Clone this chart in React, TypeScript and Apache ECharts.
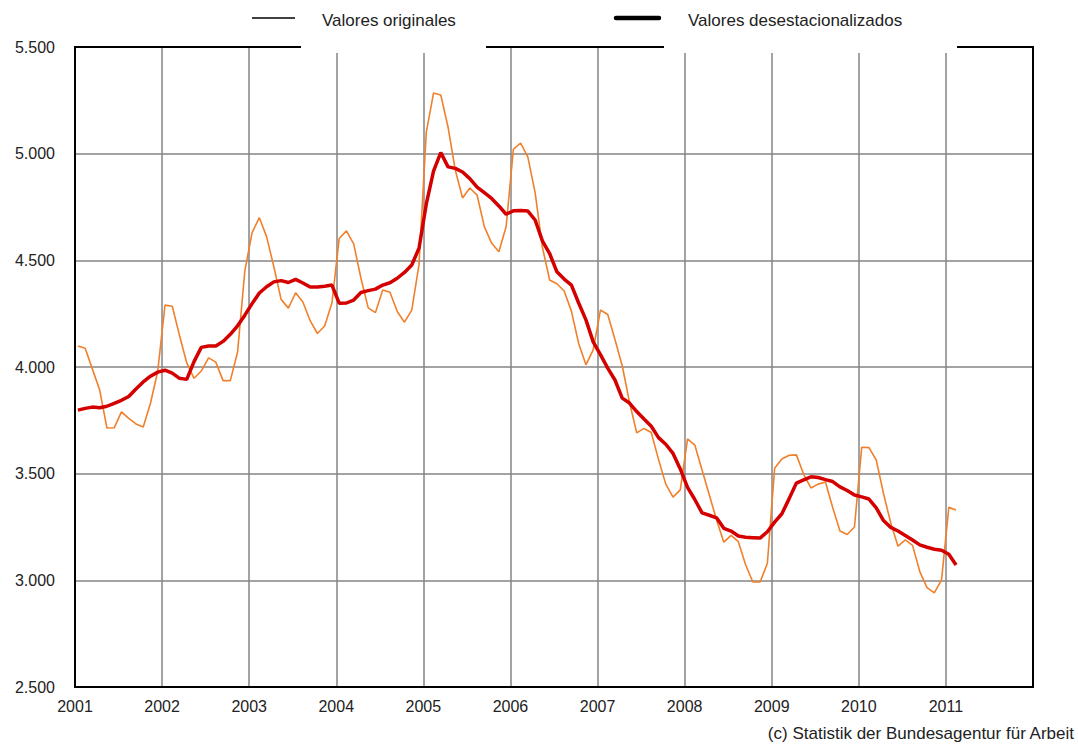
import React, { useEffect, useRef } from "react";
import * as echarts from "echarts";

// Monthly data, Jan 2001 – Feb 2011 (thousands of unemployed? values as plotted)
const startYear = 2001;
const originales: number[] = [
  // 2001
  4098, 4088, 3990, 3892, 3714, 3715, 3790, 3759, 3733, 3719, 3830, 3980,
  // 2002
  4290, 4285, 4148, 4019, 3947, 3981, 4043, 4023, 3936, 3936, 4070, 4450,
  // 2003
  4630, 4700, 4611, 4470, 4317, 4276, 4348, 4305, 4217, 4157, 4192, 4300,
  // 2004
  4602, 4638, 4577, 4416, 4277, 4255, 4361, 4350, 4260, 4210, 4267, 4480,
  // 2005
  5100, 5284, 5275, 5125, 4923, 4792, 4839, 4806, 4658, 4581, 4540, 4657,
  // 2006
  5020, 5050, 4984, 4817, 4562, 4408, 4390, 4356, 4262, 4110, 4010, 4080,
  // 2007
  4267, 4246, 4129, 4006, 3835, 3691, 3712, 3693, 3567, 3451, 3390, 3424,
  // 2008
  3663, 3634, 3517, 3400, 3283, 3179, 3211, 3181, 3073, 2992, 2992, 3080,
  // 2009
  3525, 3569, 3586, 3588, 3497, 3433, 3451, 3461, 3341, 3231, 3215, 3250,
  // 2010
  3624, 3622, 3564, 3407, 3269, 3160, 3190, 3164, 3041, 2966, 2941, 3002,
  // 2011
  3342, 3330,
];
const desestacionalizados: number[] = [
  // 2001
  3798, 3806, 3812, 3809, 3816, 3830, 3844, 3862, 3897, 3930, 3957, 3976,
  // 2002
  3985, 3971, 3947, 3942, 4025, 4092, 4098, 4098, 4120, 4153, 4193, 4243,
  // 2003
  4297, 4347, 4376, 4399, 4405, 4396, 4411, 4394, 4375, 4375, 4379, 4384,
  // 2004
  4299, 4300, 4314, 4349, 4358, 4365, 4384, 4395, 4416, 4443, 4478, 4557,
  // 2005
  4763, 4918, 5005, 4938, 4931, 4914, 4883, 4843, 4817, 4790, 4755, 4716,
  // 2006
  4732, 4734, 4731, 4689, 4591, 4532, 4446, 4412, 4384, 4300, 4221, 4118,
  // 2007
  4058, 3995, 3939, 3854, 3831, 3791, 3756, 3722, 3669, 3638, 3595, 3522,
  // 2008
  3436, 3379, 3316, 3305, 3293, 3244, 3231, 3208, 3202, 3200, 3198, 3228,
  // 2009
  3273, 3312, 3383, 3456, 3471, 3485, 3482, 3472, 3463, 3438, 3421, 3400,
  // 2010
  3391, 3381, 3340, 3280, 3248, 3231, 3210, 3189, 3166, 3155, 3146, 3141,
  // 2011
  3122, 3072,
];
const xMin = 2001;
const xMax = 2012;
const yMin = 2500;
const yMax = 5500;
const yStep = 500;
const seriesNames = ["Valores originales", "Valores desestacionalizados"];
const credit = "(c) Statistik der Bundesagentur für Arbeit";

// position of a monthly observation on the year axis (mid-month)
const monthPos = (i: number) => startYear + (i + 0.4) / 12;

const fmtThousands = (v: number) =>
  String(v).replace(/\B(?=(\d{3})+(?!\d))/g, ".");

const FONT = "'Liberation Sans', Arial, sans-serif";

export default function App() {
  const ref = useRef<HTMLDivElement>(null);
  useEffect(() => {
    if (!ref.current) return;
    const chart = echarts.init(ref.current, null, { renderer: "svg" });
    const L = 75, R = 1033, T = 47, B = 687;
    const gapStyle = { fill: "#fff" };
    const borderStyle = { stroke: "#000", lineWidth: 2 };
    chart.setOption({
      animation: false,
      backgroundColor: "#fff",
      grid: { left: L, right: 1078 - R, top: T, bottom: 746 - B, containLabel: false },
      xAxis: {
        type: "value",
        min: xMin,
        max: xMax,
        interval: 1,
        axisLine: { show: false },
        axisTick: { show: false },
        splitLine: { show: true, lineStyle: { color: "#858585", width: 1.5 } },
        axisLabel: {
          margin: 11,
          color: "#222",
          fontSize: 16,
          fontFamily: FONT,
          formatter: (v: number) => (v >= xMax ? "" : String(v)),
        },
      },
      yAxis: {
        type: "value",
        min: yMin,
        max: yMax,
        interval: yStep,
        axisLine: { show: false },
        axisTick: { show: false },
        splitLine: { show: true, lineStyle: { color: "#858585", width: 1.5 } },
        axisLabel: {
          margin: 20,
          color: "#222",
          fontSize: 16,
          fontFamily: FONT,
          formatter: (v: number) => fmtThousands(v),
        },
      },
      series: [
        {
          name: seriesNames[0],
          type: "line",
          showSymbol: false,
          symbol: "none",
          data: originales.map((v, i) => [monthPos(i), v]),
          lineStyle: { color: "#f0802c", width: 1.6 },
          z: 2,
        },
        {
          name: seriesNames[1],
          type: "line",
          showSymbol: false,
          symbol: "none",
          data: desestacionalizados.map((v, i) => [monthPos(i), v]),
          lineStyle: { color: "#d40000", width: 3.5 },
          z: 3,
        },
      ],
      graphic: [
        // white gaps behind legend area
        { type: "rect", z: 99, shape: { x: 301, y: 40, width: 185, height: 13 }, style: gapStyle },
        { type: "rect", z: 99, shape: { x: 664, y: 40, width: 293, height: 13 }, style: gapStyle },
        // frame
        { type: "line", z: 100, shape: { x1: L, y1: T, x2: 301, y2: T }, style: borderStyle },
        { type: "line", z: 100, shape: { x1: 486, y1: T, x2: 664, y2: T }, style: borderStyle },
        { type: "line", z: 100, shape: { x1: 957, y1: T, x2: R, y2: T }, style: borderStyle },
        { type: "line", z: 100, shape: { x1: R, y1: T - 1, x2: R, y2: B + 1 }, style: borderStyle },
        { type: "line", z: 100, shape: { x1: L, y1: T - 1, x2: L, y2: B + 1 }, style: borderStyle },
        { type: "line", z: 100, shape: { x1: L - 1, y1: B, x2: R + 1, y2: B }, style: borderStyle },
        // legend
        { type: "line", z: 100, shape: { x1: 252, y1: 18, x2: 295, y2: 18 }, style: { stroke: "#000", lineWidth: 1.5 } },
        {
          type: "text", z: 100, x: 322, y: 20,
          style: { text: seriesNames[0], fill: "#222", font: `17px ${FONT}`, verticalAlign: "middle", align: "left" },
        },
        { type: "line", z: 100, shape: { x1: 616, y1: 18, x2: 659, y2: 18 }, style: { stroke: "#000", lineWidth: 4.5, lineCap: "round" } },
        {
          type: "text", z: 100, x: 688, y: 20,
          style: { text: seriesNames[1], fill: "#222", font: `17px ${FONT}`, verticalAlign: "middle", align: "left" },
        },
        {
          type: "text", z: 100, x: 1074, y: 733,
          style: { text: credit, fill: "#222", font: `17px ${FONT}`, verticalAlign: "middle", align: "right" },
        },
      ],
    });
    return () => chart.dispose();
  }, []);
  return (
    <div
      ref={ref}
      style={{ position: "absolute", left: 0, top: 0, width: 1078, height: 746, background: "#fff" }}
    />
  );
}
